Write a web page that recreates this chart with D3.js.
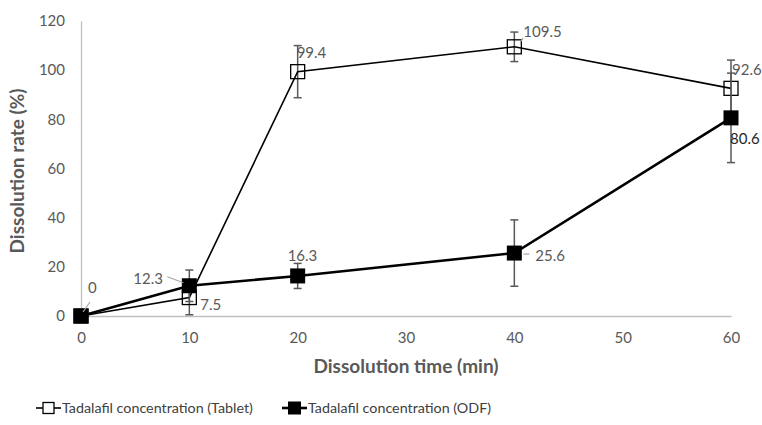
<!DOCTYPE html>
<meta charset="utf-8">
<style>
body { margin: 0; background: #fff; }
text { font-family: Lato, "Open Sans", sans-serif; }
.tick text { fill: #595959; font-size: 15px; }
.lbl { fill: #595959; font-size: 15px; }
.title { fill: #595959; font-size: 19px; font-weight: bold; }
.legend text { fill: #404040; font-size: 14.3px; }
</style>
<body>
<svg width="762" height="425"></svg>
</body>
<script src="https://cdn.jsdelivr.net/npm/d3@7"></script>
<script>

// data
var times = [0, 10, 20, 40, 60];
var tablet = [0, 7.5, 99.4, 109.5, 92.6];
var tabletErr = [0, 7, 10.6, 6, 11.5];
var odf = [0, 12.3, 16.3, 25.6, 80.6];
var odfErr = [0, 6.4, 5.1, 13.5, 18.2];
var xTicks = [0, 10, 20, 30, 40, 50, 60];
var yTicks = [0, 20, 40, 60, 80, 100, 120];
var seriesNames = ["Tadalafil concentration (Tablet)", "Tadalafil concentration (ODF)"];

var svg = d3.select("svg");

var x = d3.scaleLinear().domain([0, 60]).range([81, 731]);
var y = d3.scaleLinear().domain([0, 120]).range([316, 21]);

// axes, no tick marks
var gx = svg.append("g")
    .attr("transform", "translate(0," + y(0) + ")")
    .call(d3.axisBottom(x).tickValues(xTicks).tickSize(0).tickPadding(16));
var gy = svg.append("g")
    .attr("transform", "translate(" + x(0) + ",0)")
    .call(d3.axisLeft(y).tickValues(yTicks).tickSize(0).tickPadding(16));
svg.selectAll(".domain").attr("stroke", "#bfbfbf").attr("stroke-width", 1.3);
svg.selectAll(".tick text").attr("font-family", null).attr("font-size", null);

// axis titles
svg.append("text")
    .attr("class", "title")
    .attr("text-anchor", "middle")
    .attr("transform", "translate(24,171) rotate(-90)")
    .text("Dissolution rate (%)");
svg.append("text")
    .attr("class", "title")
    .attr("text-anchor", "middle")
    .attr("x", 406).attr("y", 373)
    .text("Dissolution time (min)");

var line = d3.line()
    .x(function(d) { return x(d[0]); })
    .y(function(d) { return y(d[1]); });

function drawErr(vals, errs) {
  var g = svg.append("g").attr("stroke", "#595959").attr("stroke-width", 1.5);
  times.forEach(function(t, i) {
    if (!errs[i]) return;
    var cx = x(t), y1 = y(vals[i] + errs[i]), y2 = y(vals[i] - errs[i]);
    g.append("line").attr("x1", cx).attr("x2", cx).attr("y1", y1).attr("y2", y2);
    g.append("line").attr("x1", cx - 4).attr("x2", cx + 4).attr("y1", y1).attr("y2", y1);
    g.append("line").attr("x1", cx - 4).attr("x2", cx + 4).attr("y1", y2).attr("y2", y2);
  });
}

// Tablet series
drawErr(tablet, tabletErr);
svg.append("path")
    .datum(times.map(function(t, i) { return [t, tablet[i]]; }))
    .attr("fill", "none")
    .attr("stroke", "#000")
    .attr("stroke-width", 1.6)
    .attr("d", line);
svg.append("g").selectAll("rect")
  .data(times.map(function(t, i) { return [t, tablet[i]]; }))
  .enter().append("rect")
    .attr("x", function(d) { return x(d[0]) - 7; })
    .attr("y", function(d) { return y(d[1]) - 7; })
    .attr("width", 14).attr("height", 14)
    .attr("fill", "none")
    .attr("stroke", "#000").attr("stroke-width", 1.3);

// ODF series
drawErr(odf, odfErr);
svg.append("path")
    .datum(times.map(function(t, i) { return [t, odf[i]]; }))
    .attr("fill", "none")
    .attr("stroke", "#000")
    .attr("stroke-width", 2.6)
    .attr("d", line);
svg.append("g").selectAll("rect")
  .data(times.map(function(t, i) { return [t, odf[i]]; }))
  .enter().append("rect")
    .attr("x", function(d) { return x(d[0]) - 7.5; })
    .attr("y", function(d) { return y(d[1]) - 7.5; })
    .attr("width", 15).attr("height", 15)
    .attr("fill", "#000");

// data labels (offsets in pixels from each point)
var tabletLbl = [null, [11, 7], [-1, -19], [9, -15], [1, -19]];
var odfLbl = [[7, -28], [-56, -7], [-10, -20], [21, 3], [-1, 21]];
var leaders = [
  [[2, -4], [9, -14]],        // 0
  [[-6, -3], [-22, -9]],      // 12.3
  [[9, 1], [15, 1]],          // 25.6
  [[6, -5], [9, -9]]          // 109.5
];

function drawLabels(vals, offs) {
  times.forEach(function(t, i) {
    if (!offs[i]) return;
    svg.append("text")
        .attr("class", "lbl")
        .attr("x", x(t) + offs[i][0])
        .attr("y", y(vals[i]) + offs[i][1])
        .attr("dy", "0.35em")
        .text(vals[i]);
  });
}
drawLabels(tablet, tabletLbl);
drawLabels(odf, odfLbl);
svg.selectAll(".lbl").filter(function() { return this.textContent === "80.6"; }).style("fill", "#262626");

var leaderPts = [[0, odf[0]], [10, odf[1]], [40, odf[3]], [40, tablet[3]]];
leaders.forEach(function(l, i) {
  var px = x(leaderPts[i][0]), py = y(leaderPts[i][1]);
  svg.append("line")
      .attr("x1", px + l[0][0]).attr("y1", py + l[0][1])
      .attr("x2", px + l[1][0]).attr("y2", py + l[1][1])
      .attr("stroke", "#a6a6a6").attr("stroke-width", 1.2);
});

// legend
var legend = svg.append("g").attr("class", "legend");
var legendX = [36, 282];
seriesNames.forEach(function(name, i) {
  var g = legend.append("g").attr("transform", "translate(" + legendX[i] + ",408)");
  g.append("line").attr("x1", 0).attr("x2", 25).attr("y1", 0).attr("y2", 0)
      .attr("stroke", "#000").attr("stroke-width", i ? 2.6 : 1.6);
  if (i) {
    g.append("rect").attr("x", 6).attr("y", -6.5).attr("width", 13).attr("height", 13).attr("fill", "#000");
  } else {
    g.append("rect").attr("x", 7).attr("y", -5.5).attr("width", 11).attr("height", 11)
        .attr("fill", "#fff").attr("stroke", "#000").attr("stroke-width", 1.3);
  }
  g.append("text").attr("x", 26).attr("dy", "0.35em").text(name);
});

</script>
